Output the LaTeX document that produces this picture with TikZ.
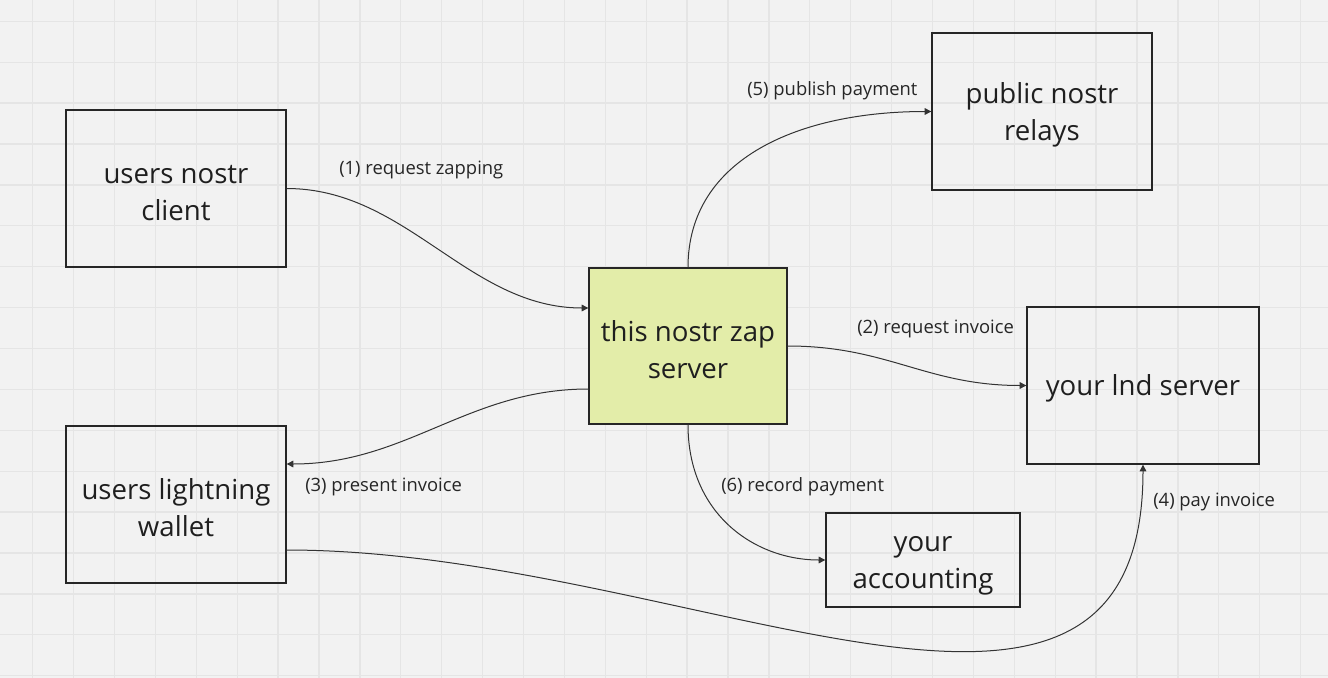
\documentclass[tikz,border=0pt]{standalone}
\usepackage{fontspec}
\setmainfont{Open Sans}
\usetikzlibrary{arrows.meta,calc}

\definecolor{gridbg}{HTML}{F2F2F2}
\definecolor{gridln}{HTML}{E5E5E5}
\definecolor{zapfill}{HTML}{E3EDA9}
\definecolor{inkline}{HTML}{333333}

\newcommand\topstrut{\rule{0pt}{20.5pt}}

\tikzset{
	box/.style={draw=black!85, line width=1pt, align=center, inner sep=0pt, text=black!88, font=\fontsize{20.7}{27.75}\selectfont},
	link/.style={draw=inkline, line width=0.75pt, -{Triangle[length=5pt,width=5pt]}},
	lbl/.style={anchor=west, inner sep=0pt, text=black!85, font=\fontsize{13.8}{16}\selectfont},
}

\begin{document}
\begin{tikzpicture}[x=0.75pt,y=0.75pt,yscale=-1,xscale=1]
	\useasboundingbox (0,0) rectangle (1328,678);
	% canvas grid
	\fill[gridbg] (0,0) rectangle (1328,678);
	\foreach \i in {0,...,31} \draw[gridln, line width=1pt] (32.7+40.9*\i,0) -- ++(0,678);
	\foreach \i in {0,...,16} \draw[gridln, line width=1pt] (0,21.3+40.9*\i) -- ++(1328,0);
	% boxes
	\node[box, minimum width=165pt, minimum height=117.75pt] (client) at (176,188.5) {\topstrut users nostr\\client};
	\node[box, minimum width=165pt, minimum height=117.75pt] (relays) at (1042,111.5) {\topstrut public nostr\\relays};
	\node[box, fill=zapfill, minimum width=148.5pt, minimum height=117pt] (server) at (688,346) {\topstrut this nostr zap\\server};
	\node[box, minimum width=174pt, minimum height=117.75pt] (lnd) at (1143,385.5) {\topstrut your lnd server};
	\node[box, minimum width=165pt, minimum height=117.75pt] (wallet) at (176,504.5) {\topstrut users lightning\\wallet};
	\node[box, minimum width=145.5pt, minimum height=70.5pt] (accounting) at (923,560) {\topstrut your\\accounting};
	% connectors
	\draw[link] (client.east) .. controls +(120,0) and +(-120,0) .. ($(server.west)+(0,-38)$);
	\draw[link] (server.east) .. controls +(100,0) and +(-100,0) .. (lnd.west);
	\draw[link] ($(server.west)+(0,43)$) .. controls +(-120,0) and +(120,0) .. ($(wallet.east)+(0,-40.5)$);
	\draw[link] ($(wallet.east)+(0,45.5)$) .. controls +(400,0) and +(0,360) .. (lnd.south);
	\draw[link] (server.north) .. controls +(0,-110) and +(-130,0) .. (relays.west);
	\draw[link] (server.south) .. controls +(0,90) and +(-70,0) .. (accounting.west);
	% labels
	\node[lbl] (l1) at (339,170) {(1) request zapping};
	\node[lbl] (l2) at (857,329) {(2) request invoice};
	\node[lbl] (l3) at (305,487) {(3) present invoice};
	\node[lbl] (l4) at (1153,502) {(4) pay invoice};
	\node[lbl] (l5) at (747,91) {(5) publish payment};
	\node[lbl] (l6) at (721,487) {(6) record payment};
\end{tikzpicture}
\end{document}
